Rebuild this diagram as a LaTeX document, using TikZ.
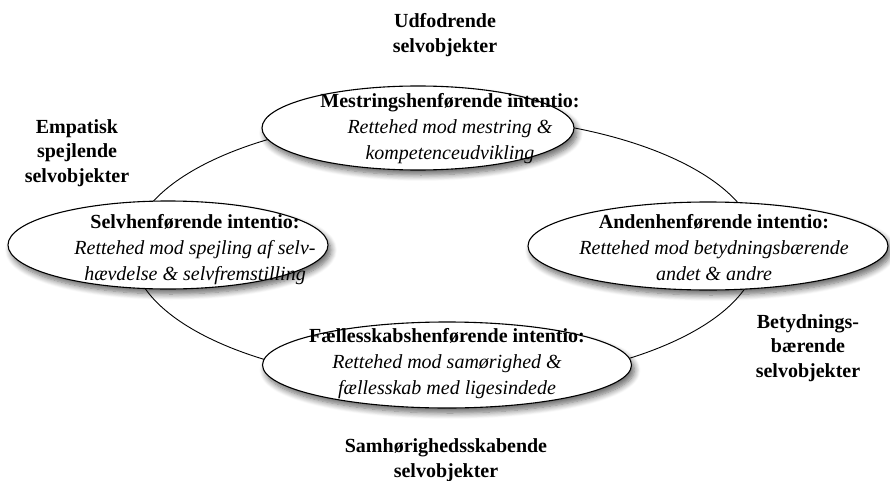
\documentclass[tikz,border=0pt]{standalone}
\usepackage{fontspec}
\setmainfont{Liberation Serif}
\usetikzlibrary{shapes.geometric,shadows.blur}
\tikzset{
  ovalbox/.style={ellipse, draw=black, line width=1.1pt, fill=white, inner sep=0pt,
    blur shadow={shadow xshift=3pt, shadow yshift=-5pt, shadow blur steps=8, shadow blur radius=6pt, shadow opacity=60}},
  ovaltext/.style={align=center, font=\fontsize{20}{26}\selectfont, inner sep=0pt},
  outerlabel/.style={align=center, font=\fontsize{20}{24.5}\selectfont\bfseries, inner sep=0pt},
}
\newcommand{\ttl}[1]{\textbf{#1}}
\newcommand{\sub}[1]{\textit{#1}}
\begin{document}
\begin{tikzpicture}[x=1pt,y=-1pt]
  \useasboundingbox (0,0) rectangle (890,481);
  % the ring linking the four intentions
  \draw[line width=0.9pt] (445,250) ellipse [x radius=313pt, y radius=134pt];
  % the four intentions
  \node (mest) [ovalbox, minimum width=312pt, minimum height=84pt] at (418,128) {};
  \node (selv) [ovalbox, minimum width=320pt, minimum height=88pt] at (168,245) {};
  \node (anden) [ovalbox, minimum width=360pt, minimum height=88pt] at (708,246) {};
  \node (faell) [ovalbox, minimum width=369pt, minimum height=86pt] at (447,365) {};
  \node[ovaltext] at (450,129) {\ttl{Mestringshenførende intentio:}\\\sub{Rettehed mod mestring \&}\\\sub{kompetenceudvikling}};
  \node[ovaltext] at (195,250) {\ttl{Selvhenførende intentio:}\\\sub{Rettehed mod spejling af selv-}\\\sub{hævdelse \& selvfremstilling}};
  \node[ovaltext] at (714,248) {\ttl{Andenhenførende intentio:}\\\sub{Rettehed mod betydningsbærende}\\\sub{andet \& andre}};
  \node[ovaltext] at (447,364) {\ttl{Fællesskabshenførende intentio:}\\\sub{Rettehed mod samørighed \&}\\\sub{fællesskab med ligesindede}};
  % the four kinds of self-objects
  \node (udf) [outerlabel] at (445,35) {Udfodrende\\selvobjekter};
  \node (emp) [outerlabel] at (77,153) {Empatisk\\spejlende\\selvobjekter};
  \node (bet) [outerlabel] at (808,348) {Betydnings-\\bærende\\selvobjekter};
  \node (sam) [outerlabel] at (446,460) {Samhørighedsskabende\\selvobjekter};
\end{tikzpicture}
\end{document}
